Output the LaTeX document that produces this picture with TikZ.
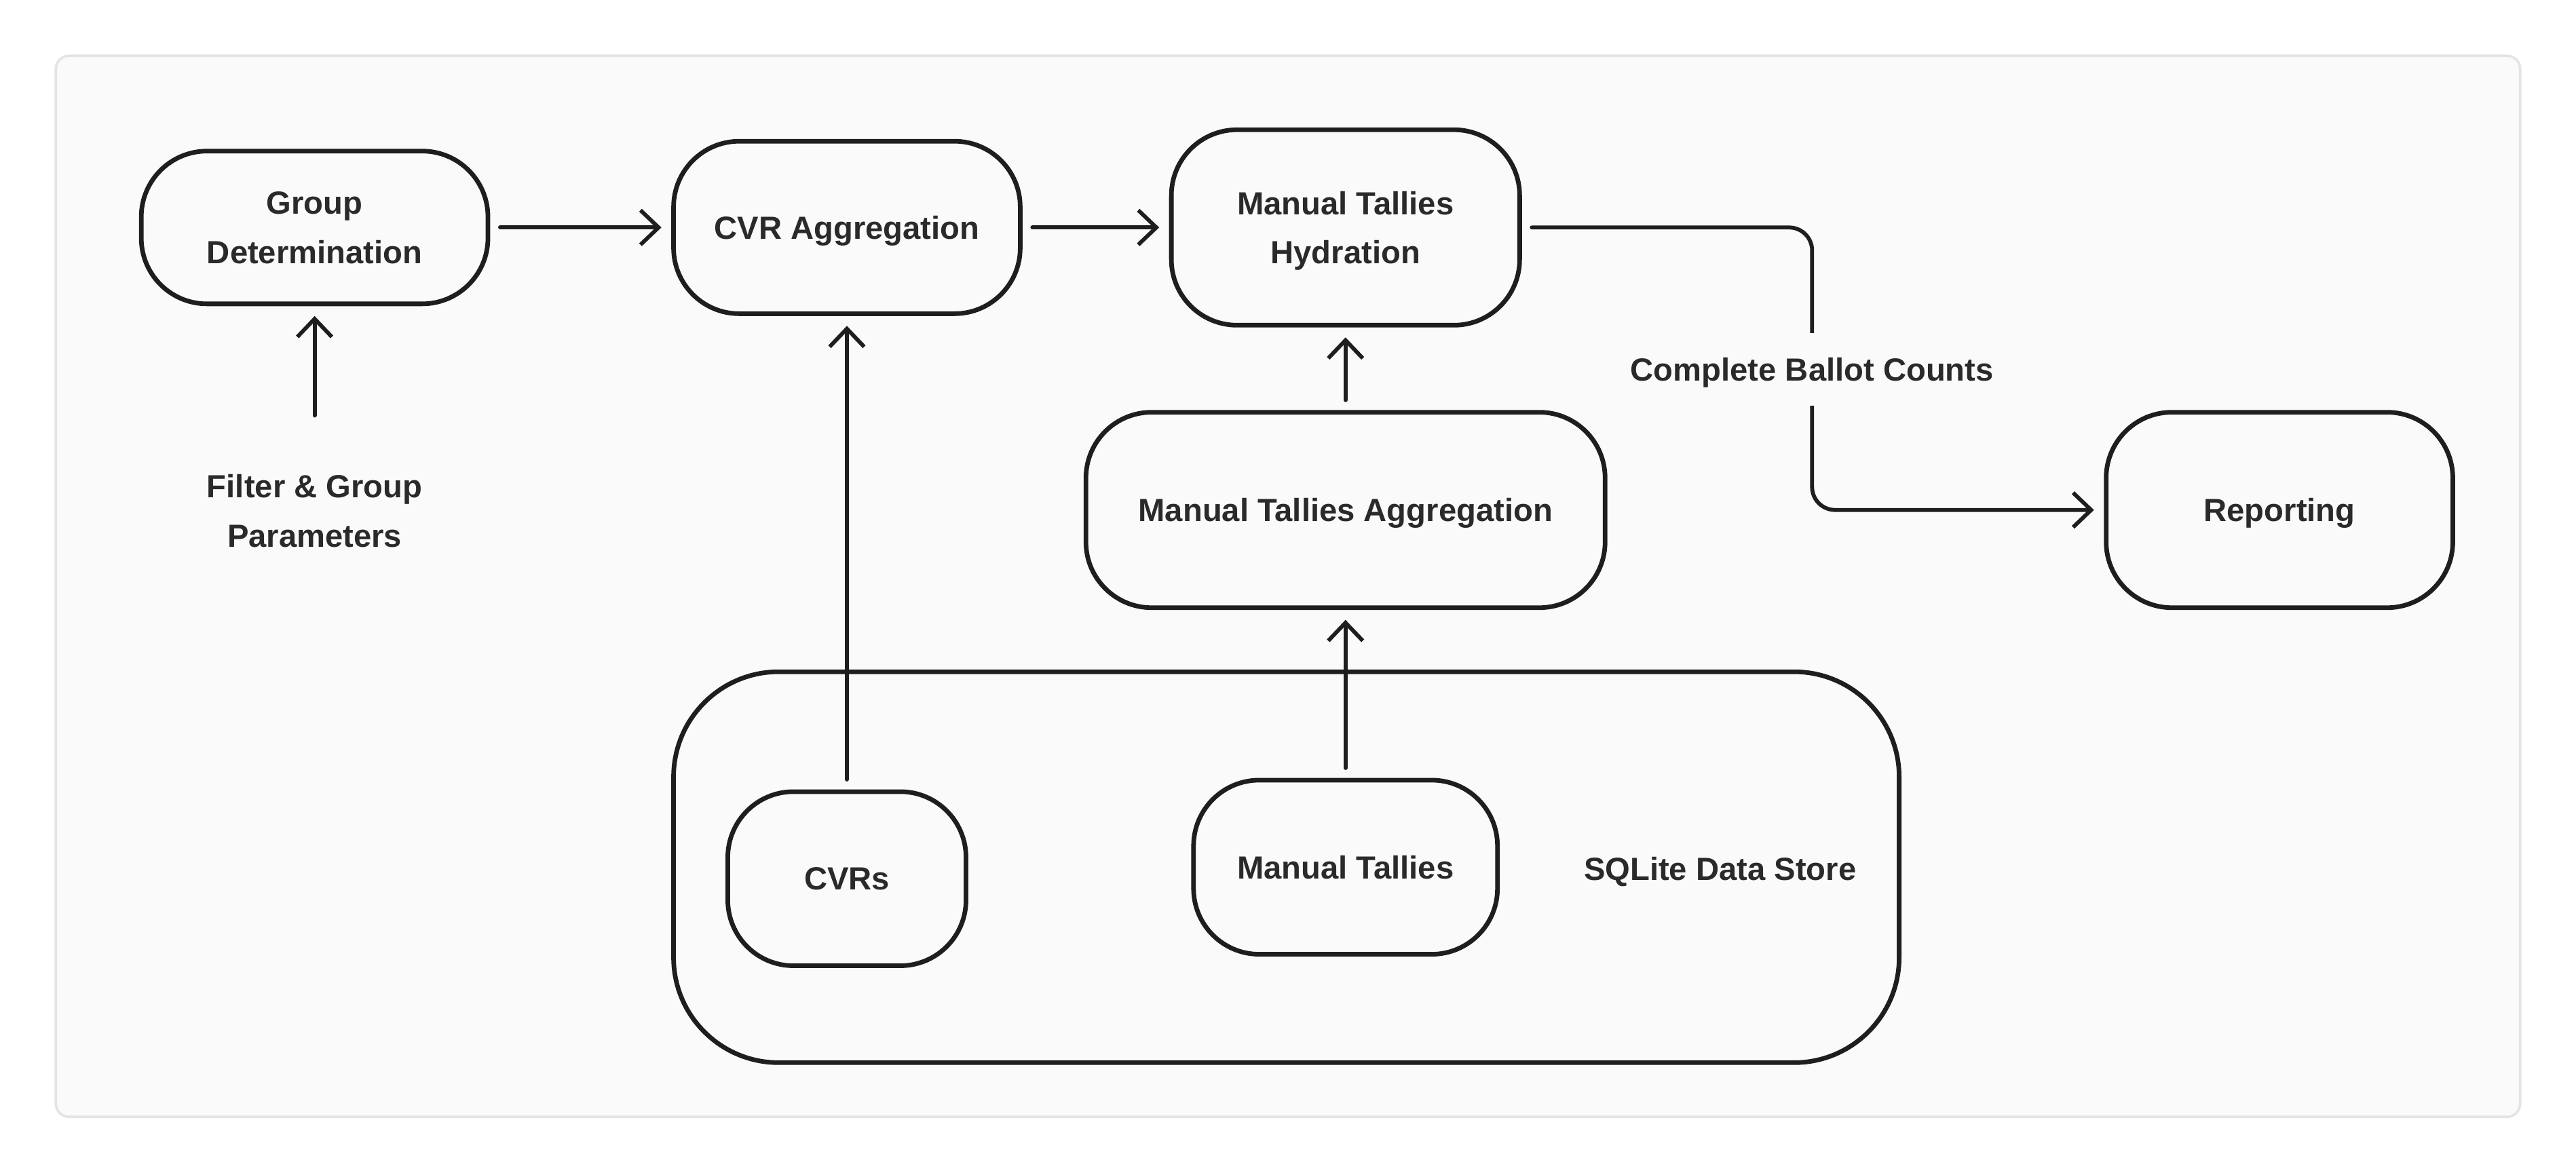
\documentclass[tikz,border=0pt]{standalone}
\usepackage{fontspec}
\setmainfont{Liberation Sans}
\usetikzlibrary{arrows.meta}
\definecolor{panelfill}{HTML}{FAFAFA}
\definecolor{paneldraw}{HTML}{E4E4E4}
\definecolor{inkc}{HTML}{1E1E1E}
\definecolor{textc}{HTML}{2A2A2A}
\tikzset{
  box/.style={draw=inkc, line width=2.8pt, rounded corners=40pt, inner sep=0pt, align=center, text=textc, text depth=0pt},
  lbl/.style={inner sep=0pt, align=center, text=textc, text depth=0pt},
  arr/.style={draw=inkc, line width=2.4pt, line cap=round, line join=round,
    -{Straight Barb[length=11pt,width=21pt,line width=2.4pt]}, shorten <=6pt, shorten >=6pt},
}
\begin{document}
\begin{tikzpicture}[x=1pt,y=-1pt,font=\bfseries\fontsize{19.5}{30}\selectfont]
\useasboundingbox (0,0) rectangle (1568,713.8);
\fill[white] (0,0) rectangle (1568,713.8);
\draw[fill=panelfill, draw=paneldraw, line width=1.5pt, rounded corners=8pt] (34,34) rectangle (1534,680);

% container
\node[box, rounded corners=64pt, minimum width=746pt, minimum height=238pt] (store) at (783,528) {};
\node[lbl] (storelbl) at (1047,529) {SQLite Data Store};

% nodes
\node[box, minimum width=211pt, minimum height=93pt] (gd) at (191.5,138.5) {Group\\Determination};
\node[box, minimum width=211pt, minimum height=105pt] (cva) at (515.5,138.5) {CVR Aggregation};
\node[box, minimum width=212pt, minimum height=119pt] (mth) at (819,138.5) {Manual Tallies\\Hydration};
\node[box, minimum width=316pt, minimum height=119pt] (mta) at (819,310.5) {Manual Tallies Aggregation};
\node[box, minimum width=211pt, minimum height=119pt] (rep) at (1387.5,310.5) {Reporting};
\node[box, minimum width=145pt, minimum height=106pt] (cvrs) at (515.5,535) {CVRs};
\node[box, minimum width=185pt, minimum height=106pt] (mt) at (819,528) {Manual Tallies};
\node[lbl] (filter) at (191.5,311) {Filter \& Group\\Parameters};
\coordinate (fstart) at (191.5,253);
\coordinate (bend) at (1103,225);

% connectors
\draw[arr] (gd.east) -- (cva.west);
\draw[arr] (cva.east) -- (mth.west);
\draw[arr, shorten <=0pt] (fstart) -- (gd.south);
\draw[arr] (cvrs.north) -- (cva.south);
\draw[arr] (mt.north) -- (mta.south);
\draw[arr] (mta.north) -- (mth.south);
\draw[arr, rounded corners=14pt] (mth.east) -| (bend) |- (rep.west);
\node[lbl, fill=panelfill, minimum height=44pt, inner xsep=3pt] (cbc) at (bend) {Complete Ballot Counts};
\end{tikzpicture}
\end{document}
